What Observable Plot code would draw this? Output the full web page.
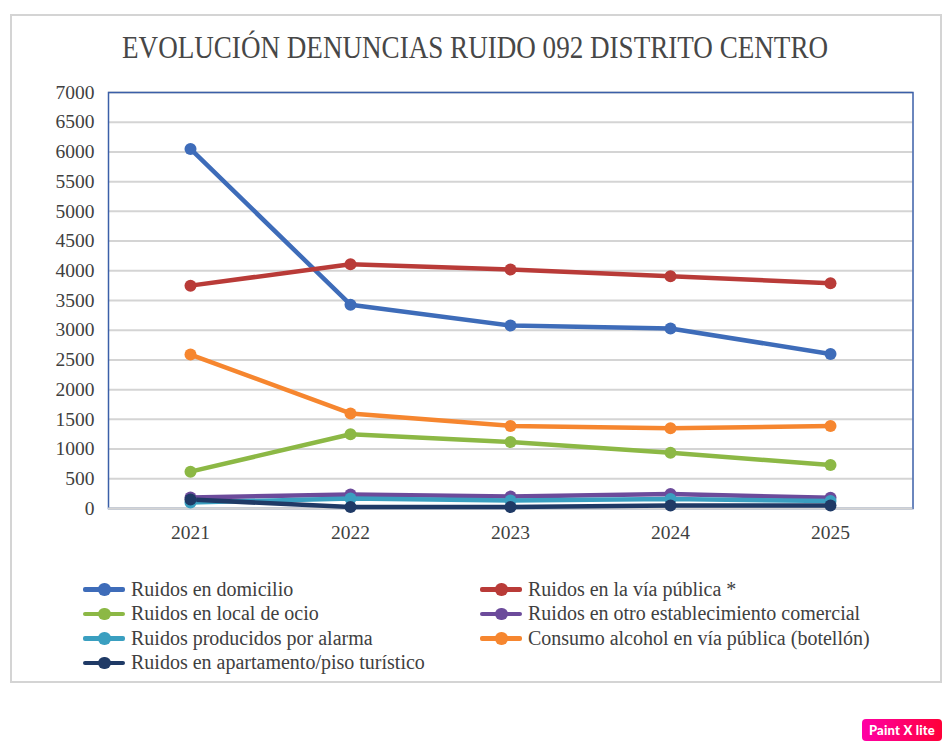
<!DOCTYPE html>
<html>
<head>
<meta charset="utf-8">
<script src="https://cdn.jsdelivr.net/npm/d3@7"></script>
<script src="https://cdn.jsdelivr.net/npm/@observablehq/plot@0.6"></script>
<style>
  html, body { margin: 0; padding: 0; background: #fff; }
  body { width: 952px; height: 752px; position: relative; overflow: hidden; font-family: "Liberation Serif", "DejaVu Serif", serif; color: #404040; }
  #frame { position: absolute; left: 10px; top: 14px; width: 928px; height: 665px; border: 2px solid #d4d4d4; }
  #chart { position: absolute; left: 0; top: 0; }
  #title { position: absolute; left: 0; top: 28px; width: 952px; text-align: center; font-size: 32px; line-height: 38px; color: #474747; white-space: nowrap; }
  #title span { display: inline-block; transform-origin: center center; margin-left: -2px; }
  #legend { position: absolute; left: 83px; top: 577px; display: grid; grid-template-columns: 397px 420px; row-gap: 0px; font-size: 20px; color: #404040; }
  .item { display: flex; align-items: center; height: 24.5px; white-space: nowrap; }
  .sw { position: relative; width: 42px; height: 4.5px; border-radius: 2px; margin-right: 6px; }
  .sw::after { content: ""; position: absolute; left: 15px; top: -4px; width: 12.5px; height: 12.5px; border-radius: 50%; background: inherit; }
  #badge { position: absolute; left: 862px; top: 719px; width: 80px; height: 22px; border-radius: 4px; background: linear-gradient(90deg, #ff00a6, #ff0038); color: #fff; font-family: "Lato", sans-serif; font-weight: 900; font-size: 13px; line-height: 22px; text-align: center; letter-spacing: 0.2px; }
</style>
</head>
<body>
<div id="frame"></div>
<div id="chart"></div>
<div id="title"><span></span></div>
<div id="legend"></div>
<div id="badge">Paint X lite</div>
<script>
const years = ["2021", "2022", "2023", "2024", "2025"];
const seriesNames = [
  "Ruidos en domicilio",
  "Ruidos en la vía pública *",
  "Ruidos en local de ocio",
  "Ruidos en otro establecimiento comercial",
  "Ruidos producidos por alarma",
  "Consumo alcohol en vía pública (botellón)",
  "Ruidos en apartamento/piso turístico"
];
const domicilio   = [6050, 3430, 3080, 3030, 2600];
const viaPublica  = [3750, 4110, 4020, 3910, 3790];
const localOcio   = [620, 1250, 1120, 940, 730];
const otroEstab   = [185, 235, 200, 245, 180];
const alarma      = [100, 170, 135, 160, 125];
const botellon    = [2590, 1600, 1390, 1350, 1390];
const turistico   = [150, 25, 25, 50, 50];
const yTicks = [0, 500, 1000, 1500, 2000, 2500, 3000, 3500, 4000, 4500, 5000, 5500, 6000, 6500, 7000];
const titleText = "EVOLUCIÓN DENUNCIAS RUIDO 092 DISTRITO CENTRO";

const seriesValues = [domicilio, viaPublica, localOcio, otroEstab, alarma, botellon, turistico];
const colors = ["#3e6cb9", "#b93b38", "#8cb845", "#6c4b9b", "#3a9fc0", "#f6862f", "#1f3a66"];
const serif = '"Liberation Serif", "DejaVu Serif", serif';

const data = [];
seriesNames.forEach((name, i) => {
  seriesValues[i].forEach((v, j) => data.push({ series: name, year: years[j], value: v }));
});

const chart = Plot.plot({
  width: 952,
  height: 560,
  marginLeft: 108,
  marginRight: 39.5,
  marginTop: 92,
  marginBottom: 52,
  style: { background: "transparent", fontFamily: serif, fontSize: "19.5px", color: "#404040" },
  x: { type: "point", domain: years, padding: 0.5, label: null },
  y: { domain: [0, 7000], ticks: yTicks, label: null },
  marks: [
    Plot.gridY(yTicks, { stroke: "#d4d4d4", strokeOpacity: 1, strokeWidth: 2 }),
    Plot.frame({ stroke: "#3b5fa8", strokeWidth: 1.5 }),
    Plot.ruleY([0], { stroke: "#d4d4d4", strokeWidth: 2 }),
    Plot.axisY(yTicks, { tickSize: 0, tickPadding: 14, fill: "#404040", fontSize: 19.5, fontFamily: serif, tickFormat: d3.format("d") }),
    Plot.axisX(years, { tickSize: 0, tickPadding: 17, fill: "#404040", fontSize: 19.5, fontFamily: serif }),
    ...seriesNames.map((name, i) => Plot.line(data.filter(d => d.series === name), { x: "year", y: "value", stroke: colors[i], strokeWidth: 4.5, curve: "linear" })),
    ...seriesNames.map((name, i) => Plot.dot(data.filter(d => d.series === name), { x: "year", y: "value", fill: colors[i], r: 6 }))
  ]
});
document.getElementById("chart").appendChild(chart);

// Title (condensed to the reference's width)
const tspan = document.querySelector("#title span");
tspan.textContent = titleText;
const natural = tspan.getBoundingClientRect().width;
tspan.style.transform = `scaleX(${706 / natural})`;

// Legend
const legend = document.getElementById("legend");
seriesNames.forEach((name, i) => {
  const item = document.createElement("div");
  item.className = "item";
  const sw = document.createElement("span");
  sw.className = "sw";
  sw.style.background = colors[i];
  const lab = document.createElement("span");
  lab.textContent = name;
  item.appendChild(sw);
  item.appendChild(lab);
  legend.appendChild(item);
});
</script>
</body>
</html>
